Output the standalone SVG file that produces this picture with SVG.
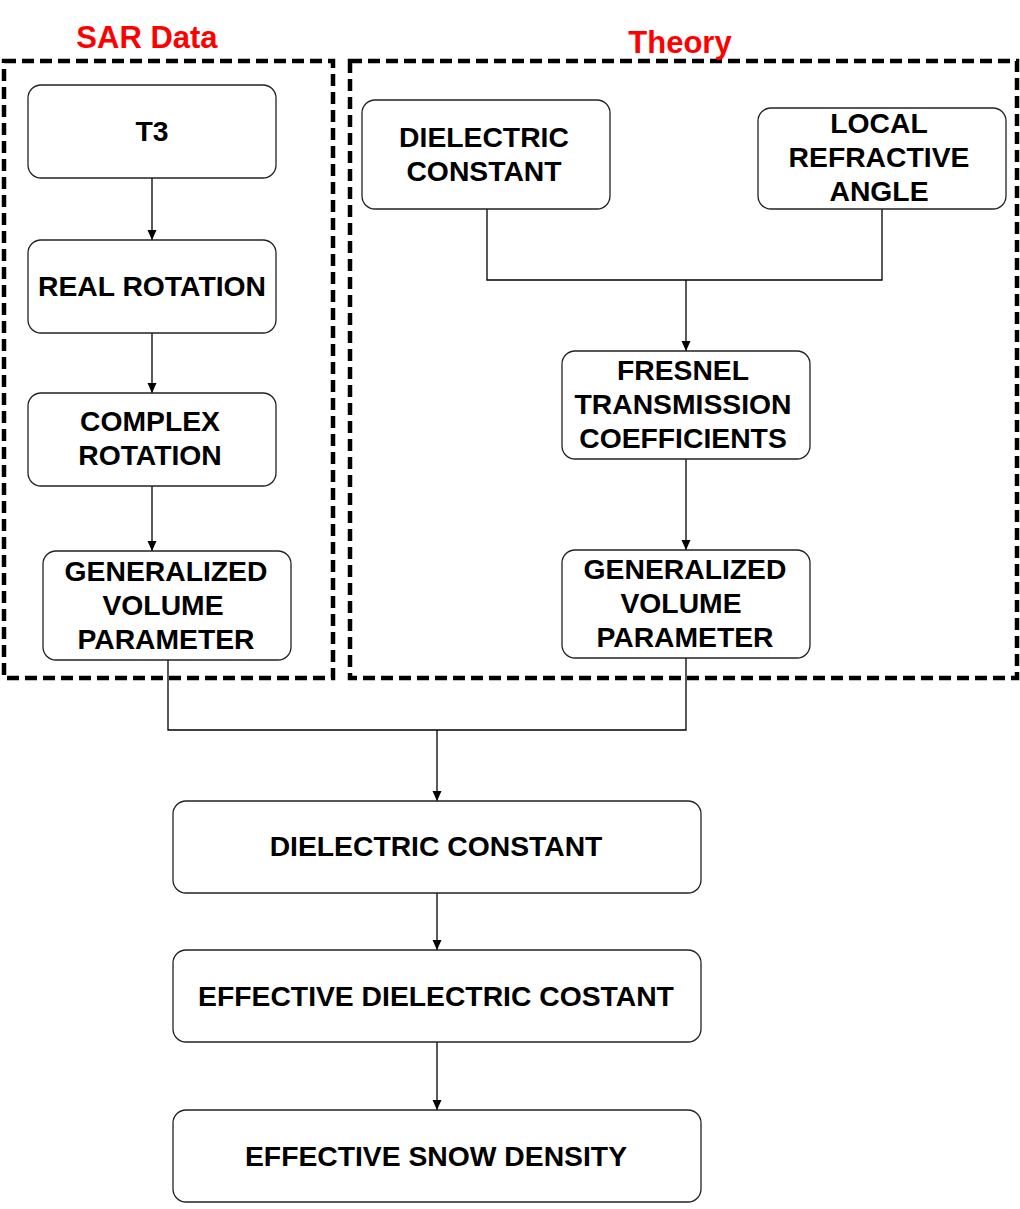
<svg xmlns="http://www.w3.org/2000/svg" width="1020" height="1209" viewBox="0 0 1020 1209">
<defs>
<marker id="arr" markerWidth="12" markerHeight="12" refX="10" refY="4.5" orient="auto" markerUnits="userSpaceOnUse">
<path d="M0,0 L10,4.5 L0,9 Z" fill="#000"/>
</marker>
</defs>
<style>
.box{fill:#fff;stroke:#222;stroke-width:1.3}
.grp{fill:none;stroke:#000;stroke-width:4.5;stroke-dasharray:12 6}
.t{font-family:"Liberation Sans",Arial,sans-serif;font-weight:bold;font-size:28.3px;fill:#000;text-anchor:middle}
.title{font-family:"Liberation Sans",Arial,sans-serif;font-weight:bold;font-size:31px;fill:#ff0000;text-anchor:middle}
.c{fill:none;stroke:#000;stroke-width:1.3}
</style>
<rect width="1020" height="1209" fill="#fff"/>
<g id="groups">
<rect class="grp" x="4" y="61" width="329" height="617"/>
<rect class="grp" x="350" y="61" width="667" height="617"/>
<text class="title" x="147" y="48">SAR Data</text>
<text class="title" x="680" y="53">Theory</text>
</g>
<g id="connectors">
<line class="c" x1="152" y1="178" x2="152" y2="240" marker-end="url(#arr)"/>
<line class="c" x1="152" y1="333" x2="152" y2="393" marker-end="url(#arr)"/>
<line class="c" x1="152" y1="486" x2="152" y2="551" marker-end="url(#arr)"/>
<polyline class="c" points="487,209 487,280 882,280 882,209"/>
<line class="c" x1="686" y1="280" x2="686" y2="351" marker-end="url(#arr)"/>
<line class="c" x1="686" y1="459" x2="686" y2="550" marker-end="url(#arr)"/>
<polyline class="c" points="168,660 168,730 686,730 686,658"/>
<line class="c" x1="437" y1="730" x2="437" y2="801" marker-end="url(#arr)"/>
<line class="c" x1="437" y1="893" x2="437" y2="950" marker-end="url(#arr)"/>
<line class="c" x1="437" y1="1042" x2="437" y2="1110" marker-end="url(#arr)"/>
</g>
<g id="n-t3"><rect class="box" x="28" y="85" width="248" height="93" rx="13"/><text class="t" x="152" y="141">T3</text></g>
<g id="n-real"><rect class="box" x="28" y="240" width="248" height="93" rx="13"/><text class="t" x="152" y="296">REAL ROTATION</text></g>
<g id="n-complex"><rect class="box" x="28" y="393" width="248" height="93" rx="13"/><text class="t" x="150" y="431">COMPLEX</text><text class="t" x="150" y="465">ROTATION</text></g>
<g id="n-gvp-left"><rect class="box" x="43" y="551" width="248" height="109" rx="13"/><text class="t" x="166" y="581">GENERALIZED</text><text class="t" x="163" y="615">VOLUME</text><text class="t" x="166" y="649">PARAMETER</text></g>
<g id="n-dc-theory"><rect class="box" x="362" y="100" width="248" height="109" rx="13"/><text class="t" x="484" y="147">DIELECTRIC</text><text class="t" x="484" y="181">CONSTANT</text></g>
<g id="n-lra"><rect class="box" x="758" y="108" width="248" height="101" rx="13"/><text class="t" x="879" y="133">LOCAL</text><text class="t" x="879" y="167">REFRACTIVE</text><text class="t" x="879" y="201">ANGLE</text></g>
<g id="n-fresnel"><rect class="box" x="562" y="351" width="248" height="108" rx="13"/><text class="t" x="683" y="380">FRESNEL</text><text class="t" x="683" y="414">TRANSMISSION</text><text class="t" x="683" y="448">COEFFICIENTS</text></g>
<g id="n-gvp-right"><rect class="box" x="562" y="550" width="248" height="108" rx="13"/><text class="t" x="685" y="579">GENERALIZED</text><text class="t" x="681" y="613">VOLUME</text><text class="t" x="685" y="647">PARAMETER</text></g>
<g id="n-dc"><rect class="box" x="173" y="801" width="528" height="92" rx="13"/><text class="t" x="436" y="856">DIELECTRIC CONSTANT</text></g>
<g id="n-edc"><rect class="box" x="173" y="950" width="528" height="92" rx="13"/><text class="t" x="436" y="1006">EFFECTIVE DIELECTRIC COSTANT</text></g>
<g id="n-esd"><rect class="box" x="173" y="1110" width="528" height="92" rx="13"/><text class="t" x="436" y="1166">EFFECTIVE SNOW DENSITY</text></g>
</svg>
